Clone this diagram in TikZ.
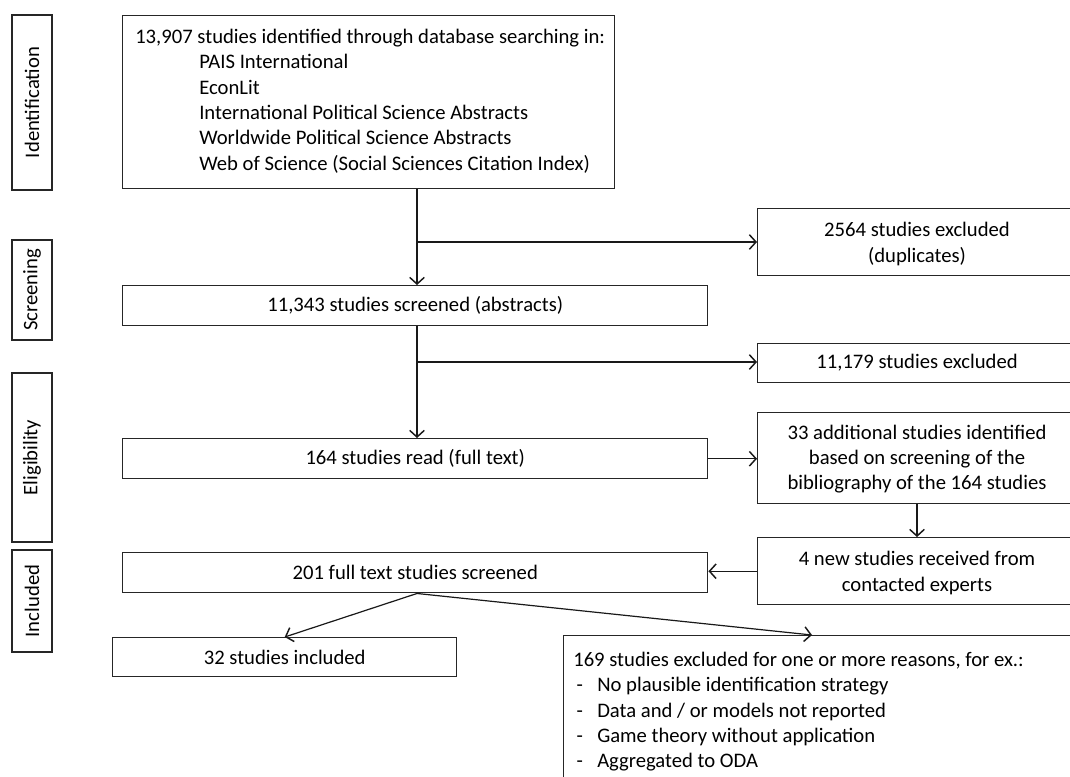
\documentclass[tikz,border=0pt]{standalone}
\usepackage{fontspec}
\setmainfont{Carlito}
\usetikzlibrary{arrows.meta}
\tikzset{
  txt/.style={font=\fontsize{15.5}{19}\selectfont},
  box/.style={draw=black!85, line width=1.1pt, inner sep=0pt, anchor=north west, align=center, txt},
  side/.style={draw=black!85, line width=1.1pt, inner sep=0pt, rotate=90, minimum height=30pt, txt},
  arr/.style={draw=black!90, line width=0.9pt, -{Straight Barb[length=5pt,width=11pt,line width=1.1pt]}},
}
\begin{document}
\begin{tikzpicture}[x=0.75pt,y=-0.75pt]
\clip (0,0) rectangle (1070,776);
\fill[white] (0,0) rectangle (1070,776);
% side labels
\node[side, minimum width=131.25pt] (idn) at (32,102.5) {Identification};
\node[side, minimum width=75pt] (scl) at (32,290) {Screening};
\node[side, minimum width=126.75pt] (eli) at (32,457.5) {Eligibility};
\node[side, minimum width=76.5pt] (incl) at (32,601) {Included};
% main boxes
\node[box, minimum width=369pt, minimum height=129.75pt] (top) at (122,15) {};
\node[anchor=north west, align=left, inner sep=0pt, txt] (toptext) at (135,29)
 {13,907 studies identified through database searching in:\\
  \hspace*{48pt}PAIS International\\
  \hspace*{48pt}EconLit\\
  \hspace*{48pt}International Political Science Abstracts\\
  \hspace*{48pt}Worldwide Political Science Abstracts\\
  \hspace*{48pt}Web of Science (Social Sciences Citation Index)};
\node[box, minimum width=240pt, minimum height=50.25pt] (dup) at (757,208) {};
\node[align=center, txt] (duptext) at (917,244) {2564 studies excluded\\(duplicates)};
\node[box, minimum width=438.75pt, minimum height=30pt] (scr) at (122,285) {11,343 studies screened (abstracts)};
\node[box, minimum width=240pt, minimum height=29.25pt] (exc) at (757,343) {};
\node[txt] (exctext) at (917,362.5) {11,179 studies excluded};
\node[box, minimum width=438.75pt, minimum height=30pt] (full) at (122,438) {164 studies read (full text)};
\node[box, minimum width=240pt, minimum height=68.25pt] (add) at (757,412) {};
\node[align=center, txt] (addtext) at (917,459) {33 additional studies identified\\based on screening of the\\bibliography of the 164 studies};
\node[box, minimum width=240pt, minimum height=50.25pt] (new) at (757,537) {};
\node[align=center, txt] (newtext) at (917,573) {4 new studies received from\\contacted experts};
\node[box, minimum width=438.75pt, minimum height=30pt] (s201) at (122,552) {201 full text studies screened};
\node[box, minimum width=258pt, minimum height=29.25pt] (inc) at (112,637) {32 studies included};
\node[box, minimum width=390pt, minimum height=150pt] (ex) at (563,635) {};
\node[anchor=north west, align=left, inner sep=0pt, txt] (extext) at (573,652)
 {169 studies excluded for one or more reasons, for ex.:\\
  \makebox[18pt][l]{\,-}No plausible identification strategy\\
  \makebox[18pt][l]{\,-}Data and / or models not reported\\
  \makebox[18pt][l]{\,-}Game theory without application\\
  \makebox[18pt][l]{\,-}Aggregated to ODA};
% connectors
\coordinate (c1) at (417,242);
\coordinate (c2) at (417,362);
\coordinate (c3) at (812,635);
\draw[arr] (top.south -| c1) -- (scr.north -| c1);
\draw[arr] (c1) -- (dup.west |- c1);
\draw[arr] (scr.south -| c2) -- (full.north -| c2);
\draw[arr] (c2) -- (exc.west |- c2);
\draw[arr] (full.east) -- (full.east -| add.west);
\draw[arr] (add.south -| 917,0) -- (new.north -| 917,0);
\draw[arr] (new.west) -- (new.west -| s201.east);
\draw[arr] (s201.south -| c1) -- (inc.north);
\draw[arr] (s201.south -| c1) -- (c3);
\end{tikzpicture}
\end{document}
